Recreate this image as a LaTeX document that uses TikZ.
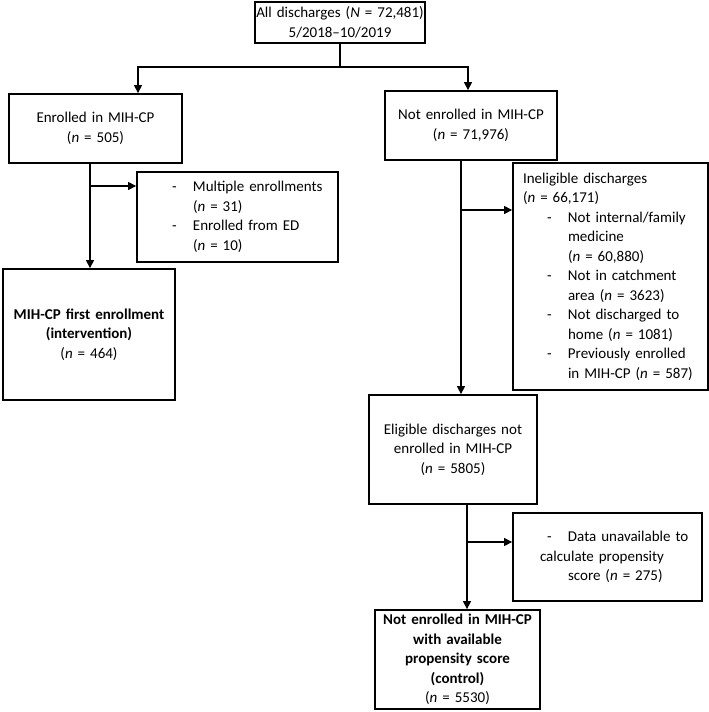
\documentclass[tikz,border=0pt]{standalone}
\usepackage{fontspec}
\setmainfont{Carlito}
\usetikzlibrary{arrows.meta}
\newcommand{\fcdash}[1]{\hspace*{#1}\makebox[21pt][l]{-}}
\begin{document}
\begin{tikzpicture}[x=1pt,y=-1pt,
  box/.style={draw=black,line width=1.8pt,rectangle,inner xsep=0pt,inner ysep=0pt,
    font=\fontsize{15}{19.5}\selectfont},
  arr/.style={line width=1.2pt,-{Triangle[length=8pt,width=8pt]}},
  ln/.style={line width=1.2pt}]
\fill[white] (0,0) rectangle (709,712);
\useasboundingbox (0,0) rectangle (709,712);

\node[box,minimum width=170pt,minimum height=41pt,text width=170pt,align=center] (top) at (340,22.5)
  {All discharges (\textit{N} = 72,481)\\5/2018–10/2019};
\node[box,minimum width=173pt,minimum height=69pt,text width=173pt,align=center] (enr) at (95.5,128.5)
  {Enrolled in MIH-CP\\(\textit{n} = 505)};
\node[box,minimum width=172pt,minimum height=69pt,text width=172pt,align=center] (notenr) at (471,125.5)
  {Not enrolled in MIH-CP\\(\textit{n} = 71,976)};
\node[box,minimum width=201pt,minimum height=90pt,text width=201pt,align=left] (ex1) at (237.5,217)
  {\fcdash{35pt}Multiple enrollments\\
   \hspace*{56pt}(\textit{n} = 31)\\
   \fcdash{35pt}Enrolled from ED\\
   \hspace*{56pt}(\textit{n} = 10)};
\node[box,minimum width=172pt,minimum height=131pt,text width=172pt,align=center] (first) at (89,334.5)
  {\textbf{MIH-CP first enrollment}\\\textbf{(intervention)}\\(\textit{n} = 464)};
\node[box,minimum width=195pt,minimum height=227pt,text width=195pt,align=left] (inel) at (610.5,276.5)
  {\hspace*{10pt}Ineligible discharges\\
   \hspace*{10pt}(\textit{n} = 66,171)\\
   \fcdash{34pt}Not internal/family\\
   \hspace*{55pt}medicine\\
   \hspace*{55pt}(\textit{n} = 60,880)\\
   \fcdash{34pt}Not in catchment\\
   \hspace*{55pt}area (\textit{n} = 3623)\\
   \fcdash{34pt}Not discharged to\\
   \hspace*{55pt}home (\textit{n} = 1081)\\
   \fcdash{34pt}Previously enrolled\\
   \hspace*{55pt}in MIH-CP (\textit{n} = 587)};
\node[box,minimum width=168pt,minimum height=109pt,text width=168pt,align=center] (elig) at (453,449.5)
  {Eligible discharges not\\enrolled in MIH-CP\\(\textit{n} = 5805)};
\node[box,minimum width=189pt,minimum height=88pt,text width=189pt,align=left] (data) at (607.5,557)
  {\fcdash{34pt}Data unavailable to\\
   \hspace*{27pt}calculate propensity\\
   \hspace*{55pt}score (\textit{n} = 275)};
\node[box,minimum width=165pt,minimum height=99pt,text width=165pt,align=center] (ctrl) at (457.5,659.5)
  {\textbf{Not enrolled in MIH-CP}\\\textbf{with available}\\\textbf{propensity score}\\\textbf{(control)}\\(\textit{n} = 5530)};

% top split
\coordinate (jl) at (138,67);
\coordinate (jr) at (468,67);
\draw[ln] (top.south) -- (top.south |- jl);
\draw[arr] (top.south |- jl) -| (enr.north -| jl);
\draw[arr] (top.south |- jr) -| (notenr.north -| jr);

% left branch
\coordinate (sl) at (90,186);
\draw[arr] (enr.south -| sl) -- (first.north -| sl);
\draw[arr] (sl) -- (sl -| ex1.west);

% right branch
\coordinate (sr) at (461,210);
\draw[arr] (notenr.south -| sr) -- (elig.north -| sr);
\draw[arr] (sr) -- (sr -| inel.west);

\coordinate (se) at (467,542);
\draw[arr] (elig.south -| se) -- (ctrl.north -| se);
\draw[arr] (se) -- (se -| data.west);
\end{tikzpicture}
\end{document}
